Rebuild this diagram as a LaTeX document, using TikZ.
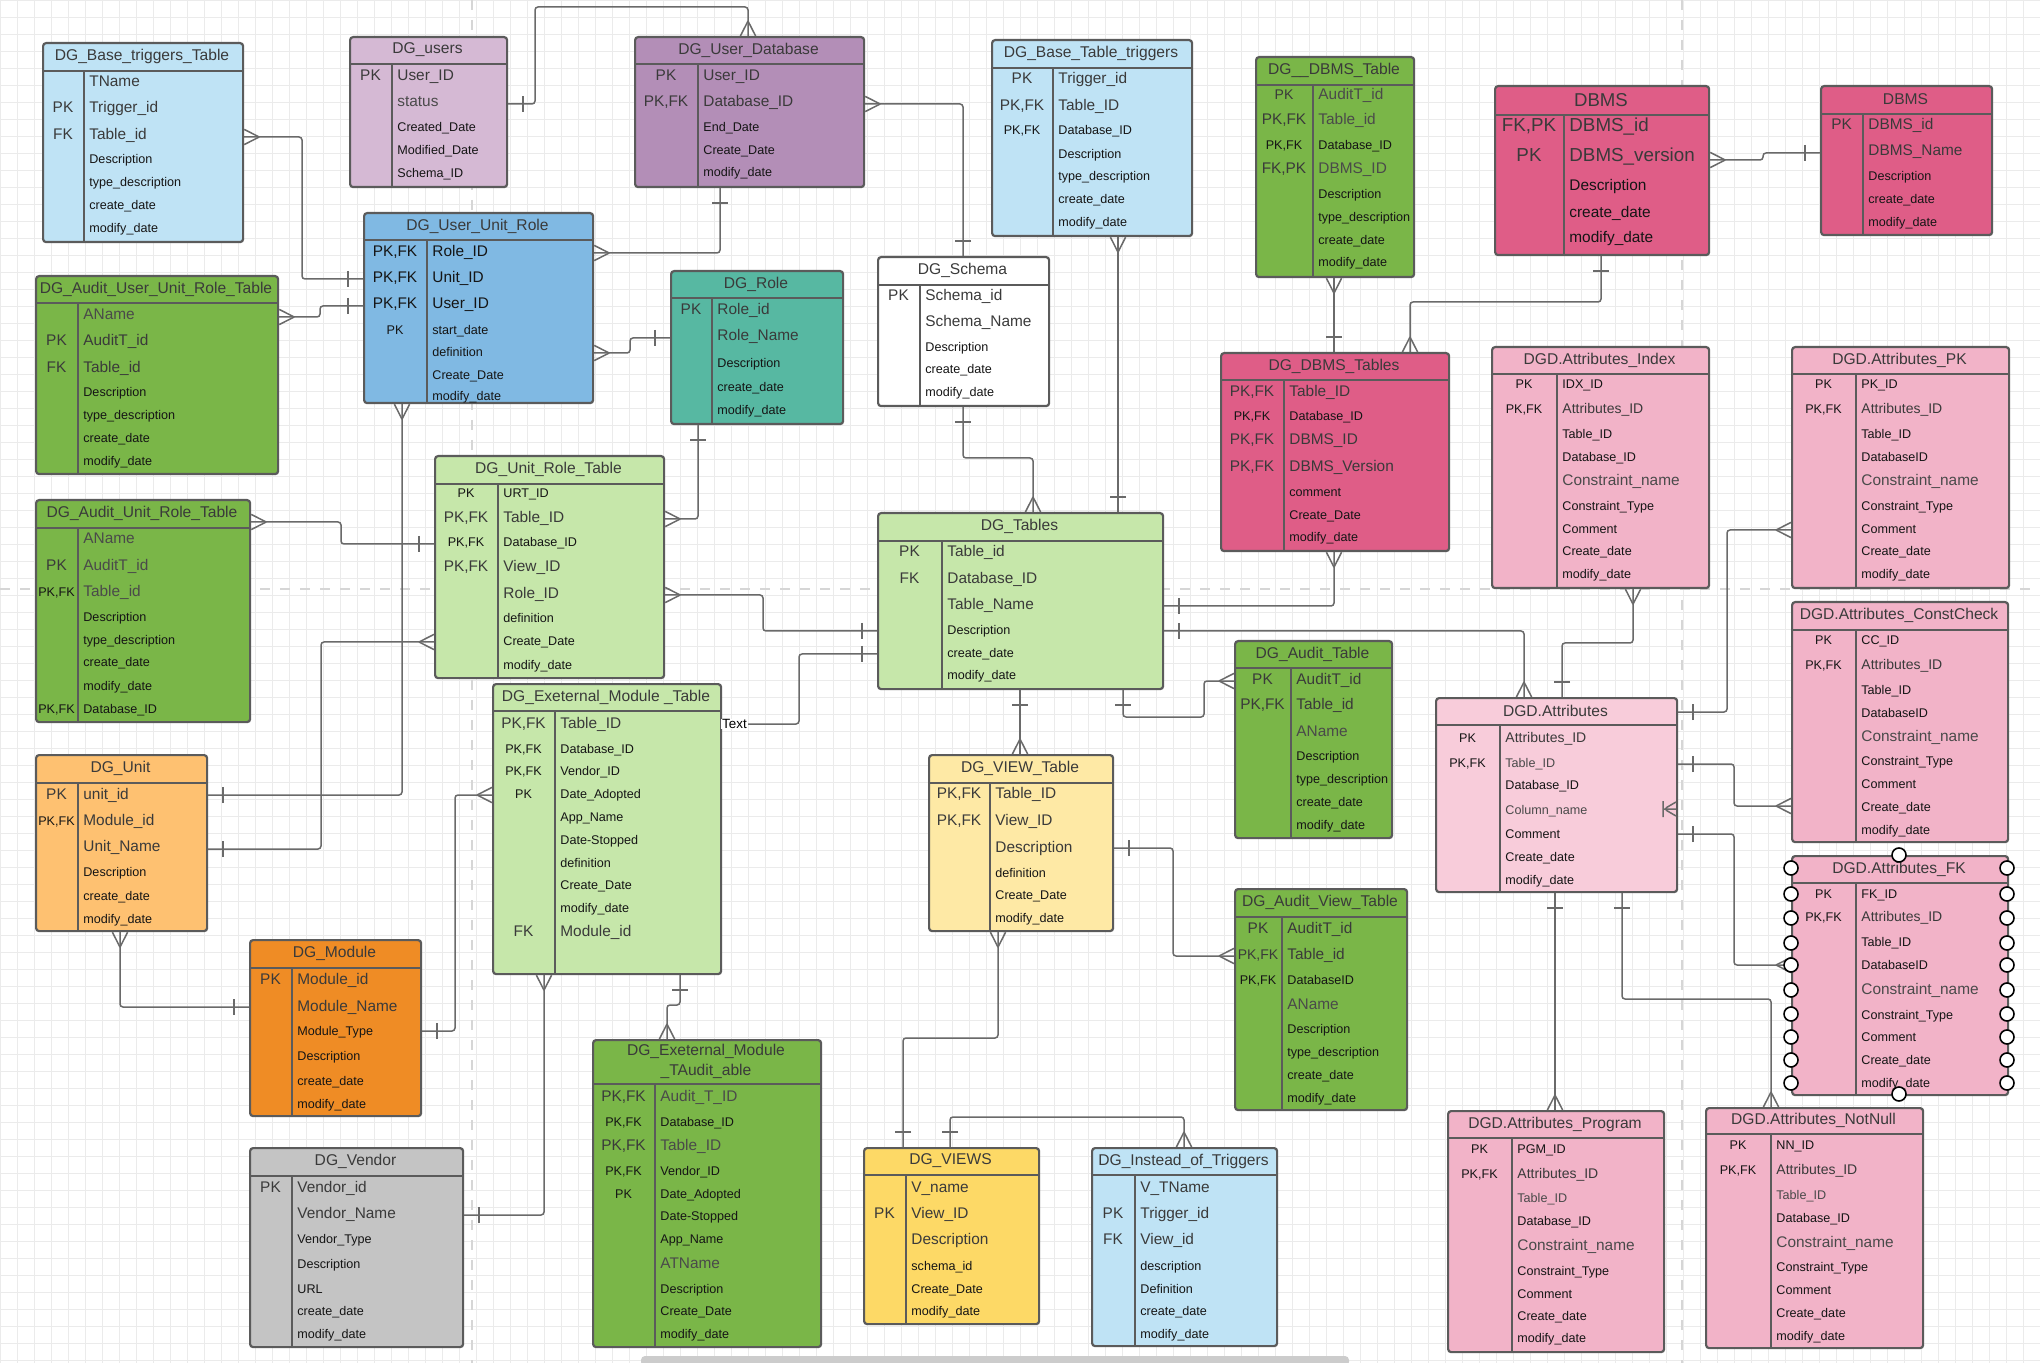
\documentclass[tikz,border=0pt]{standalone}
\usepackage{fontspec}
\setmainfont{Liberation Sans}
\usetikzlibrary{arrows.meta}
\definecolor{cLB}{HTML}{BFE3F5}
\definecolor{cUsr}{HTML}{D5B9D4}
\definecolor{cUdb}{HTML}{B38EB7}
\definecolor{cUur}{HTML}{80B9E3}
\definecolor{cRole}{HTML}{57B8A2}
\definecolor{cGrn}{HTML}{7AB648}
\definecolor{cLG}{HTML}{C6E7AA}
\definecolor{cDB}{HTML}{DF5D87}
\definecolor{cPk}{HTML}{F2B3C8}
\definecolor{cAt}{HTML}{F8CCDA}
\definecolor{cUnit}{HTML}{FEC171}
\definecolor{cMod}{HTML}{EF8C25}
\definecolor{cVen}{HTML}{C4C4C4}
\definecolor{cVT}{HTML}{FEE9A5}
\definecolor{cViews}{HTML}{FDD966}
\definecolor{bord}{HTML}{5B5B5B}
\definecolor{cconn}{HTML}{6A6A6A}
\definecolor{ink}{HTML}{3A3A3A}
\definecolor{ink2}{HTML}{151515}
\definecolor{inkg}{HTML}{4A4A4A}
\definecolor{gridc}{HTML}{EBEBEB}
\definecolor{dashc}{HTML}{D6D6D6}

\pgfdeclarearrow{
  name = Crow,
  setup code = {
    \pgfarrowssettipend{0pt}
    \pgfarrowssetlineend{0pt}
    \pgfarrowssetbackend{-7.5pt}
    \pgfarrowsupperhullpoint{0pt}{3.8pt}
    \pgfarrowsupperhullpoint{-7.5pt}{0pt}
  },
  drawing code = {
    \pgfsetdash{}{0pt}
    \pgfpathmoveto{\pgfqpoint{-7.5pt}{0pt}}
    \pgfpathlineto{\pgfqpoint{0pt}{3.8pt}}
    \pgfpathmoveto{\pgfqpoint{-7.5pt}{0pt}}
    \pgfpathlineto{\pgfqpoint{0pt}{-3.8pt}}
    \pgfusepathqstroke
  }
}
\pgfdeclarearrow{
  name = One,
  setup code = {
    \pgfarrowssettipend{0pt}
    \pgfarrowssetlineend{0pt}
    \pgfarrowssetbackend{-7.5pt}
    \pgfarrowsupperhullpoint{-7.5pt}{4pt}
    \pgfarrowsupperhullpoint{0pt}{0pt}
  },
  drawing code = {
    \pgfsetdash{}{0pt}
    \pgfpathmoveto{\pgfqpoint{-7.5pt}{4pt}}
    \pgfpathlineto{\pgfqpoint{-7.5pt}{-4pt}}
    \pgfusepathqstroke
  }
}

\tikzset{
  tbox/.style={draw=bord, line width=1.1pt, rounded corners=1.5pt, inner sep=0pt},
  sepl/.style={draw=bord, line width=1.1pt},
  ttl/.style={inner sep=0pt, align=center, font=\fontsize{7.8}{10}\selectfont, text=ink},
  txt/.style={inner sep=0pt, text height=0.72em, text depth=0.22em},
  tL/.style={txt, font=\fontsize{7.7}{9}\selectfont, text=ink},
  bL/.style={txt, font=\fontsize{7.7}{9}\selectfont, text=ink2},
  tM/.style={txt, font=\fontsize{7}{8}\selectfont, text=ink},
  tS/.style={txt, font=\fontsize{6.3}{7.5}\selectfont, text=ink2},
  tX/.style={txt, font=\fontsize{9.4}{11}\selectfont, text=ink},
  gL/.style={tL, text=inkg},
  gS/.style={tS, text=inkg},
  conn/.style={draw=cconn, line width=0.75pt, rounded corners=1.5pt},
  gridl/.style={draw=gridc, line width=0.4pt},
  hnd/.style={draw=black, fill=white, line width=0.8pt},
}

\newcount\rc
\newcommand\tbl[9]{%
  \node[tbox, fill=#8, minimum width=#4*0.5pt, minimum height=#5*0.5pt, anchor=north west] (#1) at (#2,#3) {};
  \draw[sepl] (#2,#3+#7) -- (#2+#4,#3+#7) (#2+#6,#3+#7) -- (#2+#6,#3+#5);
  \node[ttl] (#1t) at (#2+#4/2,#3+#7/2) {#9};
  \pgfmathparse{#2+#6/2}\xdef\KX{\pgfmathresult}%
  \pgfmathparse{#2+#6+5}\xdef\FX{\pgfmathresult}%
}
\newcommand\rw[5]{%
  \global\advance\rc by 1
  \if\relax\detokenize{#2}\relax\else\node[#4] (k\the\rc) at (\KX,#1) {#2};\fi
  \node[#5, anchor=west] (f\the\rc) at (\FX,#1) {#3};%
}
\newcommand\rL[3]{\rw{#1}{#2}{#3}{tL}{tL}}
\newcommand\rS[3]{\rw{#1}{#2}{#3}{tS}{tS}}
\newcommand\rM[3]{\rw{#1}{#2}{#3}{tS}{tM}}
\newcommand\rX[3]{\rw{#1}{#2}{#3}{tX}{tX}}
\newcommand\rG[3]{\rw{#1}{#2}{#3}{tL}{gL}}
\newcommand\rg[3]{\rw{#1}{#2}{#3}{tS}{gS}}
\newcommand\rK[3]{\rw{#1}{#2}{#3}{tS}{tL}}
\newcommand\rC[1]{\rw{#1}{}{Constraint\_name}{tL}{gL}}

\begin{document}
\begin{tikzpicture}[x=0.5pt,y=-0.5pt]
\useasboundingbox (0,0) rectangle (2040,1363);
\fill[white] (0,0) rectangle (2040,1363);
\foreach \gx in {0,17,...,2040} \draw[gridl] (\gx,0) -- (\gx,1363);
\foreach \gy in {0,17,...,1363} \draw[gridl] (0,\gy) -- (2040,\gy);
\draw[dashc, line width=1.2pt, dash pattern=on 5pt off 5pt] (472,0) -- (472,1363) (1682,0) -- (1682,1363) (0,589) -- (2040,589);
\fill[gray!40, rounded corners=2pt] (641,1356) rectangle (1349,1366);

% ---------- tables ----------
\tbl{btt}{42}{42}{200}{199}{42}{29}{cLB}{DG\_Base\_triggers\_Table}
\rL{82}{}{TName}
\rL{108}{PK}{Trigger\_id}
\rL{135}{FK}{Table\_id}
\rS{159}{}{Description}
\rS{182}{}{type\_description}
\rS{205}{}{create\_date}
\rS{228}{}{modify\_date}

\tbl{usr}{349}{36}{157}{150}{43}{28}{cUsr}{DG\_users}
\rL{76}{PK}{User\_ID}
\rG{102}{}{status}
\rS{127}{}{Created\_Date}
\rS{150}{}{Modified\_Date}
\rS{173}{}{Schema\_ID}

\tbl{udb}{634}{36}{229}{150}{64}{28}{cUdb}{DG\_User\_Database}
\rL{76}{PK}{User\_ID}
\rL{102}{PK,FK}{Database\_ID}
\rS{127}{}{End\_Date}
\rS{150}{}{Create\_Date}
\rS{172}{}{modify\_date}

\tbl{uur}{363}{212}{229}{190}{64}{28}{cUur}{DG\_User\_Unit\_Role}
\rw{252}{PK,FK}{Role\_ID}{bL}{bL}
\rw{278}{PK,FK}{Unit\_ID}{bL}{bL}
\rw{304}{PK,FK}{User\_ID}{bL}{bL}
\rS{330}{PK}{start\_date}
\rS{352}{}{definition}
\rS{375}{}{Create\_Date}
\rS{396}{}{modify\_date}

\tbl{role}{670}{270}{172}{153}{42}{28}{cRole}{DG\_Role}
\rL{310}{PK}{Role\_id}
\rL{336}{}{Role\_Name}
\rS{363}{}{Description}
\rS{387}{}{create\_date}
\rS{410}{}{modify\_date}

\tbl{aur}{35}{275}{242}{198}{43}{28}{cGrn}{DG\_Audit\_User\_Unit\_Role\_Table}
\rG{315}{}{AName}
\rL{341}{PK}{AuditT\_id}
\rL{368}{FK}{Table\_id}
\rS{392}{}{Description}
\rS{415}{}{type\_description}
\rS{438}{}{create\_date}
\rS{461}{}{modify\_date}

\tbl{bttr}{991}{39}{200}{196}{62}{29}{cLB}{DG\_Base\_Table\_triggers}
\rL{79}{PK}{Trigger\_id}
\rL{106}{PK,FK}{Table\_ID}
\rS{130}{PK,FK}{Database\_ID}
\rS{154}{}{Description}
\rS{176}{}{type\_description}
\rS{199}{}{create\_date}
\rS{222}{}{modify\_date}

\tbl{sch}{877}{256}{171}{149}{43}{29}{white}{DG\_Schema}
\rL{296}{PK}{Schema\_id}
\rL{322}{}{Schema\_Name}
\rS{347}{}{Description}
\rS{369}{}{create\_date}
\rS{392}{}{modify\_date}

\tbl{dbt}{1255}{56}{158}{220}{58}{29}{cGrn}{DG\_\_DBMS\_Table}
\rw{95}{PK}{AuditT\_id}{tM}{gL}
\rG{120}{PK,FK}{Table\_id}
\rS{145}{PK,FK}{Database\_ID}
\rG{169}{FK,PK}{DBMS\_ID}
\rS{194}{}{Description}
\rS{217}{}{type\_description}
\rS{240}{}{create\_date}
\rS{262}{}{modify\_date}

\tbl{dbts}{1220}{352}{228}{198}{64}{28}{cDB}{DG\_DBMS\_Tables}
\rL{392}{PK,FK}{Table\_ID}
\rS{416}{PK,FK}{Database\_ID}
\rL{440}{PK,FK}{DBMS\_ID}
\rL{467}{PK,FK}{DBMS\_Version}
\rS{492}{}{comment}
\rS{515}{}{Create\_Date}
\rS{537}{}{modify\_date}

\tbl{dbmsa}{1494}{85}{214}{169}{70}{30}{cDB}{{\fontsize{9.3}{11}\selectfont DBMS}}
\rX{127}{FK,PK}{DBMS\_id}
\rX{157}{PK}{DBMS\_version}
\rw{186}{}{Description}{bL}{bL}
\rw{213}{}{create\_date}{bL}{bL}
\rw{238}{}{modify\_date}{bL}{bL}

\tbl{dbmsb}{1820}{85}{171}{149}{43}{29}{cDB}{DBMS}
\rL{125}{PK}{DBMS\_id}
\rL{151}{}{DBMS\_Name}
\rS{176}{}{Description}
\rS{199}{}{create\_date}
\rS{222}{}{modify\_date}

\tbl{aidx}{1491}{346}{217}{241}{66}{28}{cPk}{DGD.Attributes\_Index}
\rS{384}{PK}{IDX\_ID}
\rM{409}{PK,FK}{Attributes\_ID}
\rS{434}{}{Table\_ID}
\rS{457}{}{Database\_ID}
\rC{481}
\rS{506}{}{Constraint\_Type}
\rS{529}{}{Comment}
\rS{551}{}{Create\_date}
\rS{574}{}{modify\_date}

\tbl{apk}{1791}{346}{217}{241}{65}{28}{cPk}{DGD.Attributes\_PK}
\rS{384}{PK}{PK\_ID}
\rM{409}{PK,FK}{Attributes\_ID}
\rS{434}{}{Table\_ID}
\rS{457}{}{DatabaseID}
\rC{481}
\rS{506}{}{Constraint\_Type}
\rS{529}{}{Comment}
\rS{551}{}{Create\_date}
\rS{574}{}{modify\_date}

\tbl{aurt}{35}{499}{214}{222}{43}{29}{cGrn}{DG\_Audit\_Unit\_Role\_Table}
\rG{539}{}{AName}
\rG{566}{PK}{AuditT\_id}
\rw{592}{PK,FK}{Table\_id}{tS}{gL}
\rS{617}{}{Description}
\rS{640}{}{type\_description}
\rS{662}{}{create\_date}
\rS{685}{}{modify\_date}
\rS{708}{PK,FK}{Database\_ID}

\tbl{urt}{434}{455}{229}{222}{64}{29}{cLG}{DG\_Unit\_Role\_Table}
\rS{493}{PK}{URT\_ID}
\rL{518}{PK,FK}{Table\_ID}
\rS{542}{PK,FK}{Database\_ID}
\rL{567}{PK,FK}{View\_ID}
\rL{594}{}{Role\_ID}
\rS{618}{}{definition}
\rS{641}{}{Create\_Date}
\rS{664}{}{modify\_date}

\tbl{unit}{35}{754}{171}{176}{43}{29}{cUnit}{DG\_Unit}
\rL{794}{PK}{unit\_id}
\rK{820}{PK,FK}{Module\_id}
\rL{846}{}{Unit\_Name}
\rS{871}{}{Description}
\rS{895}{}{create\_date}
\rS{918}{}{modify\_date}

\tbl{ext}{492}{683}{228}{290}{63}{28}{cLG}{DG\_Exeternal\_Module \_Table}
\rL{723}{PK,FK}{Table\_ID}
\rS{748}{PK,FK}{Database\_ID}
\rS{770}{PK,FK}{Vendor\_ID}
\rS{793}{PK}{Date\_Adopted}
\rS{816}{}{App\_Name}
\rS{839}{}{Date-Stopped}
\rS{862}{}{definition}
\rS{884}{}{Create\_Date}
\rS{907}{}{modify\_date}
\rL{931}{FK}{Module\_id}

\tbl{tab}{877}{512}{285}{176}{65}{29}{cLG}{DG\_Tables}
\rL{552}{PK}{Table\_id}
\rL{579}{FK}{Database\_ID}
\rL{605}{}{Table\_Name}
\rS{630}{}{Description}
\rS{652}{}{create\_date}
\rS{675}{}{modify\_date}

\tbl{aud}{1234}{640}{157}{197}{57}{28}{cGrn}{DG\_Audit\_Table}
\rL{679}{PK}{AuditT\_id}
\rL{704}{PK,FK}{Table\_id}
\rG{731}{}{AName}
\rS{755}{}{Description}
\rS{778}{}{type\_description}
\rS{801}{}{create\_date}
\rS{824}{}{modify\_date}

\tbl{vt}{928}{754}{184}{176}{62}{29}{cVT}{DG\_VIEW\_Table}
\rL{793}{PK,FK}{Table\_ID}
\rL{820}{PK,FK}{View\_ID}
\rL{847}{}{Description}
\rS{872}{}{definition}
\rS{894}{}{Create\_Date}
\rS{917}{}{modify\_date}

\tbl{avt}{1234}{888}{172}{221}{48}{29}{cGrn}{DG\_Audit\_View\_Table}
\rL{928}{PK}{AuditT\_id}
\rw{954}{PK,FK}{Table\_id}{tM}{tL}
\rS{979}{PK,FK}{DatabaseID}
\rG{1004}{}{AName}
\rS{1028}{}{Description}
\rS{1051}{}{type\_description}
\rS{1074}{}{create\_date}
\rS{1097}{}{modify\_date}

\tbl{attr}{1435}{697}{241}{194}{65}{28}{cAt}{DGD.Attributes}
\rM{737}{PK}{Attributes\_ID}
\rg{762}{PK,FK}{Table\_ID}
\rS{784}{}{Database\_ID}
\rg{809}{}{Column\_name}
\rS{833}{}{Comment}
\rS{856}{}{Create\_date}
\rS{879}{}{modify\_date}

\tbl{acc}{1791}{601}{216}{240}{65}{29}{cPk}{DGD.Attributes\_ConstCheck}
\rS{640}{PK}{CC\_ID}
\rM{664}{PK,FK}{Attributes\_ID}
\rS{689}{}{Table\_ID}
\rS{712}{}{DatabaseID}
\rC{736}
\rS{760}{}{Constraint\_Type}
\rS{783}{}{Comment}
\rS{806}{}{Create\_date}
\rS{829}{}{modify\_date}

\tbl{afk}{1791}{855}{216}{239}{65}{28}{cPk}{DGD.Attributes\_FK}
\rS{893}{PK}{FK\_ID}
\rM{916}{PK,FK}{Attributes\_ID}
\rS{941}{}{Table\_ID}
\rS{964}{}{DatabaseID}
\rC{989}
\rS{1014}{}{Constraint\_Type}
\rS{1036}{}{Comment}
\rS{1059}{}{Create\_date}
\rS{1082}{}{modify\_date}

\tbl{apg}{1447}{1110}{216}{241}{65}{28}{cPk}{DGD.Attributes\_Program}
\rS{1148}{PK}{PGM\_ID}
\rM{1173}{PK,FK}{Attributes\_ID}
\rg{1197}{}{Table\_ID}
\rS{1220}{}{Database\_ID}
\rC{1245}
\rS{1270}{}{Constraint\_Type}
\rS{1293}{}{Comment}
\rS{1315}{}{Create\_date}
\rS{1337}{}{modify\_date}

\tbl{ann}{1705}{1107}{217}{240}{66}{27}{cPk}{DGD.Attributes\_NotNull}
\rS{1144}{PK}{NN\_ID}
\rM{1169}{PK,FK}{Attributes\_ID}
\rg{1194}{}{Table\_ID}
\rS{1217}{}{Database\_ID}
\rC{1242}
\rS{1266}{}{Constraint\_Type}
\rS{1289}{}{Comment}
\rS{1312}{}{Create\_date}
\rS{1335}{}{modify\_date}

\tbl{mod}{249}{939}{171}{176}{43}{29}{cMod}{DG\_Module}
\rL{979}{PK}{Module\_id}
\rL{1006}{}{Module\_Name}
\rS{1030}{}{Module\_Type}
\rS{1055}{}{Description}
\rS{1080}{}{create\_date}
\rS{1103}{}{modify\_date}

\tbl{ven}{249}{1147}{213}{199}{43}{29}{cVen}{DG\_Vendor}
\rL{1187}{PK}{Vendor\_id}
\rL{1213}{}{Vendor\_Name}
\rS{1238}{}{Vendor\_Type}
\rS{1263}{}{Description}
\rS{1288}{}{URL}
\rS{1310}{}{create\_date}
\rS{1333}{}{modify\_date}

\tbl{exa}{592}{1039}{228}{307}{63}{45}{cGrn}{DG\_Exeternal\_Module\\\_TAudit\_able}
\rG{1096}{PK,FK}{Audit\_T\_ID}
\rS{1121}{PK,FK}{Database\_ID}
\rG{1145}{PK,FK}{Table\_ID}
\rS{1170}{PK,FK}{Vendor\_ID}
\rS{1193}{PK}{Date\_Adopted}
\rS{1215}{}{Date-Stopped}
\rS{1238}{}{App\_Name}
\rG{1263}{}{ATName}
\rS{1288}{}{Description}
\rS{1310}{}{Create\_Date}
\rS{1333}{}{modify\_date}

\tbl{views}{863}{1147}{175}{176}{43}{28}{cViews}{DG\_VIEWS}
\rL{1187}{}{V\_name}
\rL{1213}{PK}{View\_ID}
\rL{1239}{}{Description}
\rS{1265}{}{schema\_id}
\rS{1288}{}{Create\_Date}
\rS{1310}{}{modify\_date}

\tbl{iot}{1091}{1147}{185}{198}{44}{28}{cLB}{DG\_Instead\_of\_Triggers}
\rL{1187}{}{V\_TName}
\rL{1213}{PK}{Trigger\_id}
\rL{1239}{FK}{View\_id}
\rS{1265}{}{description}
\rS{1288}{}{Definition}
\rS{1310}{}{create\_date}
\rS{1333}{}{modify\_date}

% ---------- connectors ----------
\draw[conn,{Crow}-{One}] (btt.east |- 0,137) -| (302,279) -- (uur.west |- 0,279);
\draw[conn,{Crow}-{One}] (aur.east |- 0,317) -| (320,306) -- (uur.west |- 0,306);
\draw[conn,{One}-{Crow}] (usr.east |- 0,104) -| (535,7) -| (udb.north -| 748,0);
\draw[conn,{One}-{Crow}] (udb.south -| 720,0) |- (uur.east |- 0,253);
\draw[conn,{Crow}-{One}] (uur.east |- 0,353) -| (630,338) -- (role.west |- 0,338);
\draw[conn,{One}-{Crow}] (role.south -| 698,0) |- (urt.east |- 0,519);
\draw[conn,{Crow}-{One}] (uur.south -| 402,0) |- (unit.east |- 0,795);
\draw[conn,{Crow}-{One}] (urt.west |- 0,642) -| (321,849) -- (unit.east |- 0,849);
\draw[conn,{Crow}-{One}] (aurt.east |- 0,522) -| (341,544) -- (urt.west |- 0,544);
\draw[conn,{Crow}-{One}] (urt.east |- 0,595) -| (763,631) -- (tab.west |- 0,631);
\draw[conn,-{One}] (ext.east |- 0,724) -| (799,654) -- (tab.west |- 0,654);
\draw[conn,{Crow}-{One}] (udb.east |- 0,104) -| (sch.north -| 963,0);
\draw[conn,{One}-{Crow}] (sch.south -| 963,0) |- (1033,458) -- (tab.north -| 1033,0);
\draw[conn,{Crow}-{One}] (bttr.south -| 1118,0) -- (tab.north -| 1118,0);
\draw[conn,{Crow}-{One}] (dbt.south -| 1334,0) -- (dbts.north -| 1334,0);
\draw[conn,{Crow}-{One}] (dbmsa.east |- 0,160) -| (1763,153) -- (dbmsb.west |- 0,153);
\draw[conn,{One}-{Crow}] (dbmsa.south -| 1601,0) |- (1410,302) -- (dbts.north -| 1410,0);
\draw[conn,{Crow}-{One}] (dbts.south -| 1334,0) |- (tab.east |- 0,606);
\draw[conn,{One}-{Crow}] (tab.east |- 0,631) -| (attr.north -| 1524,0);
\draw[conn,{One}-{Crow}] (attr.north -| 1562,0) |- (1633,643) -- (aidx.south -| 1633,0);
\draw[conn,{One}-{Crow}] (attr.east |- 0,712) -| (1727,530) -- (apk.west |- 0,530);
\draw[conn,{One}-{Crow}] (attr.east |- 0,764) -| (1734,806) -- (acc.west |- 0,806);
\draw[conn,{One}-{Crow}] (attr.east |- 0,834) -| (1734,965) -- (afk.west |- 0,965);
\draw[conn,{One}-{Crow}] (tab.south -| 1020,0) -- (vt.north -| 1020,0);
\draw[conn,{One}-{Crow}] (tab.south -| 1123,0) |- (1204,717) |- (aud.west |- 0,681);
\draw[conn,{One}-{Crow}] (vt.east |- 0,848) -| (1173,956) -- (avt.west |- 0,956);
\draw[conn,{Crow}-{One}] (vt.south -| 998,0) |- (903,1038) -- (views.north -| 903,0);
\draw[conn,{One}-{Crow}] (views.north -| 950,0) |- (1184,1117) -- (iot.north -| 1184,0);
\draw[conn,{Crow}-{One}] (unit.south -| 120,0) |- (mod.west |- 0,1007);
\draw[conn,{One}-{Crow}] (mod.east |- 0,1031) -| (455,795) -- (ext.west |- 0,795);
\draw[conn,{Crow}-{One}] (ext.south -| 544,0) |- (ven.east |- 0,1215);
\draw[conn,{One}-{Crow}] (ext.south -| 680,0) |- (667,1005) -- (exa.north -| 667,0);
\draw[conn,{One}-{Crow}] (attr.south -| 1555,0) -- (apg.north -| 1555,0);
\draw[conn,{One}-{Crow}] (attr.south -| 1622,0) |- (1771,999) -- (ann.north -| 1771,0);

% stray end marker inside DGD.Attributes
\draw[conn] (1663,801) -- (1663,817) (1676,802) -- (1664,809) -- (1676,816) (1664,809) -- (1676,809);

% label on connector
\node[inner sep=0.4pt, fill=white, font=\fontsize{6.7}{8}\selectfont, text=black, anchor=west] (lbltext) at (721,724) {Text};

% selection handles on DGD.Attributes_FK
\foreach \hy in {868,894,918,943,965,990,1014,1037,1060,1083} {
  \draw[hnd] (1791,\hy) circle[radius=7];
  \draw[hnd] (2007,\hy) circle[radius=7];
}
\draw[hnd] (1899,855) circle[radius=7];
\draw[hnd] (1899,1094) circle[radius=7];
\end{tikzpicture}
\end{document}
